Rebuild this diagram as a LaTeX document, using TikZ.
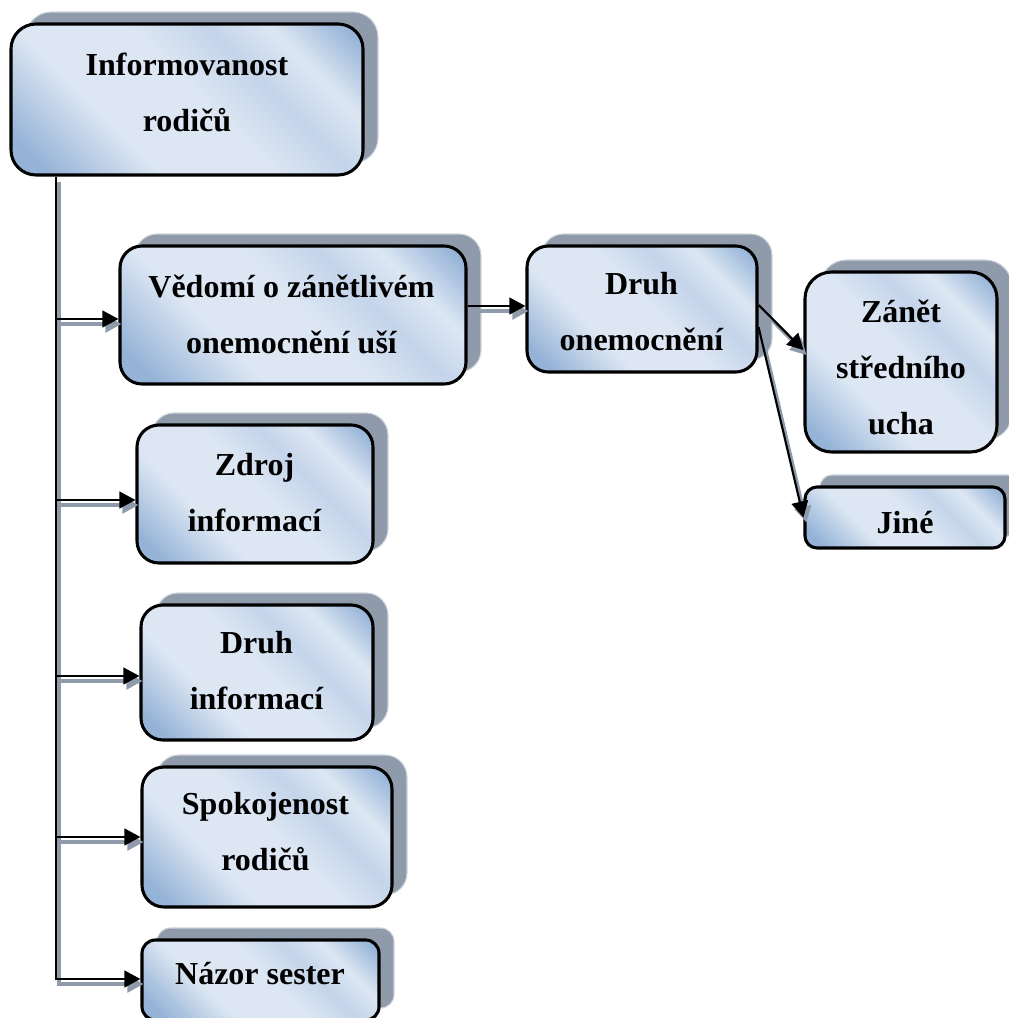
\documentclass[tikz,border=0pt]{standalone}
\usepackage{fontspec}
\setmainfont{Liberation Serif}
\usetikzlibrary{shadows,arrows.meta,calc}
\definecolor{bdark}{RGB}{149,179,215}
\definecolor{blight}{RGB}{221,231,243}
\definecolor{bmid}{RGB}{196,212,234}
\definecolor{shadowc}{RGB}{143,155,170}
\definecolor{shadowedge}{RGB}{205,211,219}
\pgfdeclarehorizontalshading{boxshade}{100bp}{color(0bp)=(bdark); color(20bp)=(bdark); color(36bp)=(blight); color(52bp)=(blight); color(63bp)=(bmid); color(72bp)=(blight); color(83bp)=(bdark); color(100bp)=(bdark)}
\tikzset{
  boxnode/.style={draw=black, line width=2.3pt, shade, shading=boxshade, shading angle=45,
    rounded corners=#1, inner sep=0pt,
    drop shadow={shadow xshift=11.25pt, shadow yshift=9pt, fill=shadowc, draw=shadowedge, line width=0.8pt, opacity=1}},
  boxnode/.default=16pt,
  txt/.style={align=center, inner sep=0pt, font=\fontsize{24}{42}\selectfont\bfseries},
}
\newcommand\myconns{%
  \draw[conn] (top.south -| t5) -- (t5) -- (t5 -| nazor.west);
  \draw[conn] (t1) -- (t1 -| vedomi.west);
  \draw[conn] (t2) -- (t2 -| zdroj.west);
  \draw[conn] (t3) -- (t3 -| druhinf.west);
  \draw[conn] (t4) -- (t4 -| spokoj.west);
  \draw[conn] (a1) -- (a1 -| druhon.west);
  \draw[conn] (b1) -- (b2);
  \draw[conn] (c1) -- (jine.west);
}
\begin{document}
\begin{tikzpicture}[x=0.75pt,y=-0.75pt]
\useasboundingbox (0,0) rectangle (1009,1018);
% boxes
\node[boxnode=18.75pt, minimum width=264pt, minimum height=113.25pt] (top) at (187,99.5) {};
\node[boxnode=16.5pt, minimum width=259.5pt, minimum height=103.5pt] (vedomi) at (293,315) {};
\node[boxnode=16pt, minimum width=172.5pt, minimum height=94.5pt] (druhon) at (642,309) {};
\node[boxnode=20pt, minimum width=144pt, minimum height=135pt] (zanet) at (901,362) {};
\node[boxnode=9pt, minimum width=150pt, minimum height=45.75pt] (jine) at (905,517.5) {};
\node[boxnode=16.5pt, minimum width=177pt, minimum height=103.5pt] (zdroj) at (255,494) {};
\node[boxnode=16.5pt, minimum width=174pt, minimum height=101.25pt] (druhinf) at (257,672.5) {};
\node[boxnode=16.5pt, minimum width=187.5pt, minimum height=105pt] (spokoj) at (267,837) {};
\node[boxnode=10pt, minimum width=177.75pt, minimum height=60pt] (nazor) at (260.5,980) {};
% texts
\node[txt] (toptext) at (187,92) {Informovanost\\rodičů};
\node[txt] (vedomitext) at (291.5,314) {Vědomí o zánětlivém\\onemocnění uší};
\node[txt] (druhontext) at (641.5,312) {Druh\\onemocnění};
\node[txt] (zanettext) at (901,367) {Zánět\\středního\\ucha};
\node[txt] (jinetext) at (905,523) {Jiné};
\node[txt] (zdrojtext) at (254.5,493) {Zdroj\\informací};
\node[txt] (druhinftext) at (256.5,671) {Druh\\informací};
\node[txt] (spokojtext) at (265.5,832) {Spokojenost\\rodičů};
\node[txt] (nazortext) at (260,974) {Názor sester};
% connector points
\coordinate (t1) at (56,319);
\coordinate (t2) at (56,500);
\coordinate (t3) at (56,676);
\coordinate (t4) at (56,837);
\coordinate (t5) at (56,979);
\coordinate (a1) at ([shift={(0,-9)}]vedomi.east);
\coordinate (b1) at ([shift={(0,-4)}]druhon.east);
\coordinate (b2) at ([shift={(0,-12)}]zanet.west);
\coordinate (c1) at ([shift={(0,18)}]druhon.east);
% connector shadows
\begin{scope}[transform canvas={xshift=2.25pt,yshift=-3.75pt},
  conn/.style={draw=shadowc, line width=2.4pt, -{Triangle[length=12pt,width=12.5pt]}}]
\myconns
\end{scope}
% connectors
\begin{scope}[conn/.style={draw=black, line width=1.6pt, -{Triangle[length=12pt,width=12.5pt]}}]
\myconns
\end{scope}
\end{tikzpicture}
\end{document}
